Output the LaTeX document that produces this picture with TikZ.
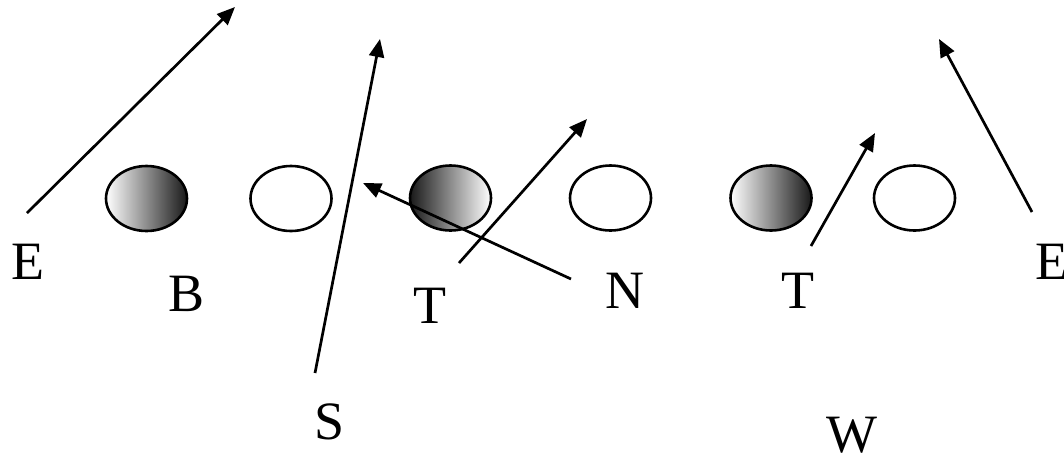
\documentclass[tikz,border=0pt]{standalone}
\usepackage{fontspec}
\setmainfont{Liberation Serif}
\usetikzlibrary{arrows.meta,shapes.geometric}
\begin{document}
\begin{tikzpicture}[x=1pt,y=-1pt,
  lineman/.style={draw=black,line width=2.6pt,ellipse,minimum width=81pt,minimum height=65pt,inner sep=0pt},
  darkright/.style={lineman,left color=white,right color=black!90},
  darkleft/.style={lineman,left color=black!90,right color=white},
  plain/.style={lineman,fill=white},
  lbl/.style={font=\fontsize{54}{60}\selectfont,inner sep=0pt,anchor=center},
  route/.style={line width=2.7pt,-{Triangle[length=18pt,width=15pt]}}]
\useasboundingbox (0,0) rectangle (1064,459);
% linemen
\node[darkright] (o1) at (146.5,198.5) {};
\node[plain]     (o2) at (291,198.5) {};
\node[darkleft]  (o3) at (450.5,198) {};
\node[plain]     (o4) at (610.5,198) {};
\node[darkright] (o5) at (771,198) {};
\node[plain]     (o6) at (914.5,198) {};
% labels
\node[lbl] (eL) at (27.5,261.5) {E};
\node[lbl] (b)  at (187,293.5) {B};
\node[lbl] (t1) at (430,306) {T};
\node[lbl] (n)  at (625,291) {N};
\node[lbl] (t2) at (798,291) {T};
\node[lbl] (eR) at (1051.5,262) {E};
\node[lbl] (s)  at (329.5,421.5) {S};
\node[lbl] (w)  at (852,435) {W};
% route ends
\coordinate (aE1) at (27,213);   \coordinate (zE1) at (235,7);
\coordinate (aS)  at (315,373);  \coordinate (zS)  at (380,39);
\coordinate (aN)  at (571,279);  \coordinate (zN)  at (363,183);
\coordinate (aT1) at (459,263);  \coordinate (zT1) at (587,119);
\coordinate (aT2) at (811,246);  \coordinate (zT2) at (875,133);
\coordinate (aE2) at (1032,212); \coordinate (zE2) at (939,39);
\draw[route] (aE1) -- (zE1);
\draw[route] (aS) -- (zS);
\draw[route] (aN) -- (zN);
\draw[route] (aT1) -- (zT1);
\draw[route] (aT2) -- (zT2);
\draw[route] (aE2) -- (zE2);
\end{tikzpicture}
\end{document}
